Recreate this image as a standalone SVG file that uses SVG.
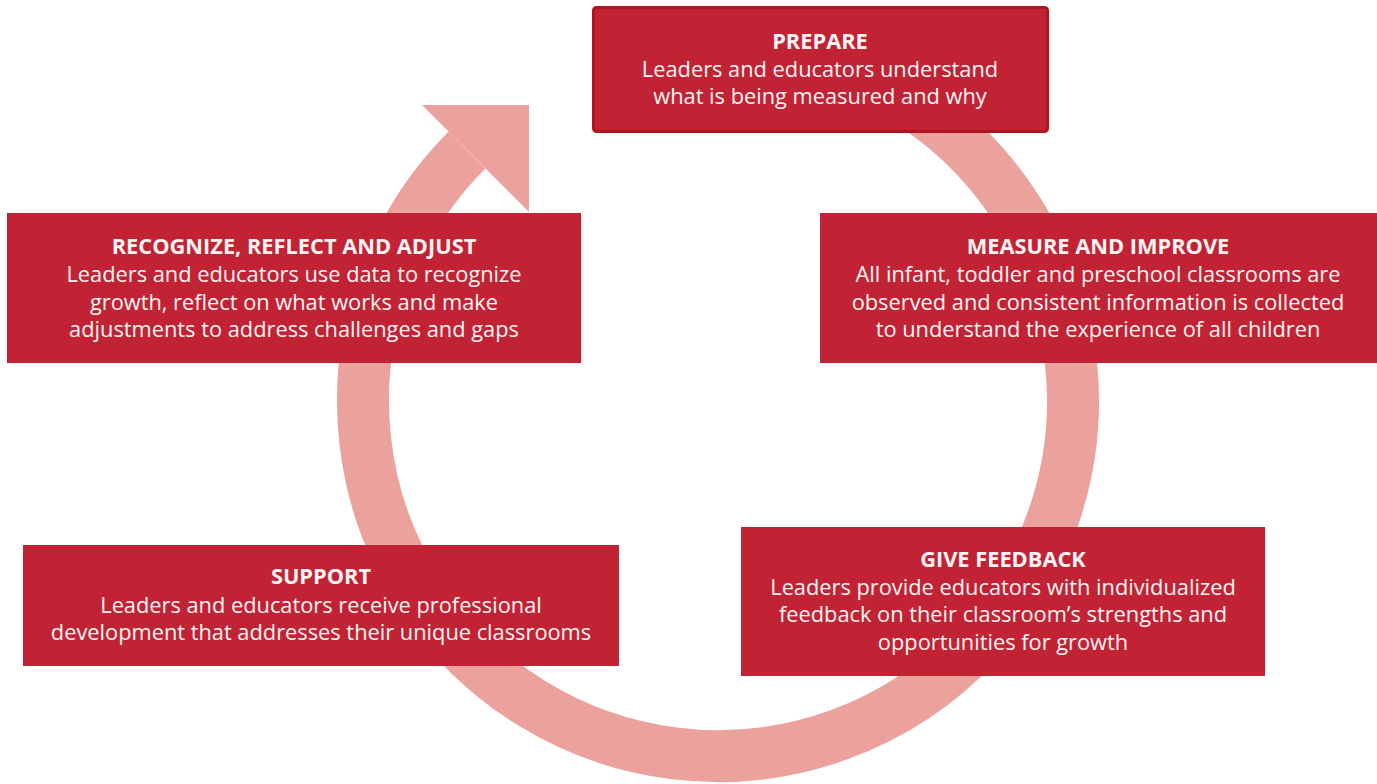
<svg xmlns="http://www.w3.org/2000/svg" width="1377" height="784" viewBox="0 0 1377 784">
<style>
.box{fill:#C12335}
.t{font-family:"Open Sans","Liberation Sans",sans-serif;font-size:21.8px;fill:#FFF4F4;text-anchor:middle}
.h{font-weight:bold}
</style>
<rect width="1377" height="784" fill="#FFFFFF"/>
<g id="connectors">
<path d="M 749 47.4 A 355 355 0 1 1 467 150" fill="none" stroke="#EBA29C" stroke-width="52"/>
<polygon points="422,105 529,105 529,212" fill="#EBA29C"/>
</g>
<g id="prepare">
<rect class="box" x="593.5" y="7.5" width="454" height="124" rx="3" stroke="#AD161D" stroke-width="3"/>
<text class="t h" x="820" y="49">PREPARE</text>
<text class="t" x="820" y="77">Leaders and educators understand</text>
<text class="t" x="820" y="104">what is being measured and why</text>
</g>
<g id="measure">
<rect class="box" x="820" y="213" width="557" height="150"/>
<text class="t h" x="1098" y="254">MEASURE AND IMPROVE</text>
<text class="t" x="1098" y="282">All infant, toddler and preschool classrooms are</text>
<text class="t" x="1098" y="310">observed and consistent information is collected</text>
<text class="t" x="1098" y="337">to understand the experience of all children</text>
</g>
<g id="feedback">
<rect class="box" x="741" y="527" width="524" height="149"/>
<text class="t h" x="1003" y="567">GIVE FEEDBACK</text>
<text class="t" x="1003" y="595">Leaders provide educators with individualized</text>
<text class="t" x="1003" y="622">feedback on their classroom’s strengths and</text>
<text class="t" x="1003" y="650">opportunities for growth</text>
</g>
<g id="support">
<rect class="box" x="23" y="545" width="596" height="121"/>
<text class="t h" x="321" y="584">SUPPORT</text>
<text class="t" x="321" y="613">Leaders and educators receive professional</text>
<text class="t" x="321" y="640">development that addresses their unique classrooms</text>
</g>
<g id="recognize">
<rect class="box" x="7" y="213" width="574" height="150"/>
<text class="t h" x="294" y="254">RECOGNIZE, REFLECT AND ADJUST</text>
<text class="t" x="294" y="282">Leaders and educators use data to recognize</text>
<text class="t" x="294" y="310">growth, reflect on what works and make</text>
<text class="t" x="294" y="337">adjustments to address challenges and gaps</text>
</g>
</svg>
